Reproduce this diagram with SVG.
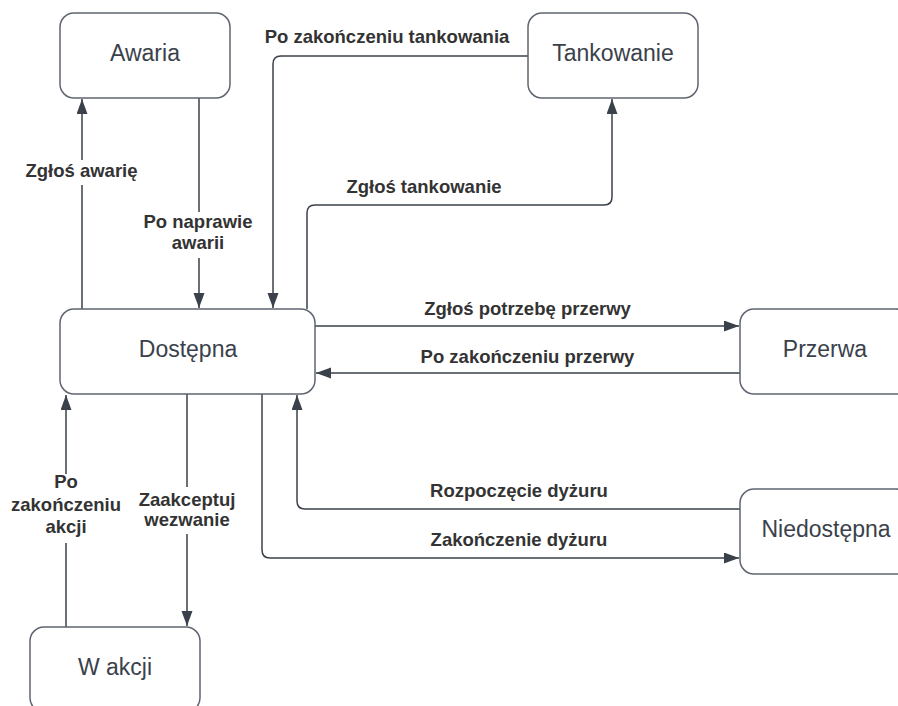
<svg xmlns="http://www.w3.org/2000/svg" width="898" height="706" viewBox="0 0 898 706">
<style>
.node rect{fill:#fff;stroke:#5f6570;stroke-width:1.5}
.node text{font-family:"Liberation Sans",Arial,sans-serif;font-size:23px;fill:#3a414a;text-anchor:middle}
.conn path{fill:none;stroke:#3a414a;stroke-width:1.5}
.lbl{font-family:"Liberation Sans",Arial,sans-serif;font-size:18.5px;font-weight:bold;fill:#333;text-anchor:middle}
.bg{fill:#fff}
</style>
<defs>
<marker id="ah" markerUnits="userSpaceOnUse" markerWidth="16" markerHeight="12" refX="15" refY="5.5" orient="auto">
<path d="M0,0 L15,5.5 L0,11 z" fill="#3a414a"/>
</marker>
</defs>
<rect width="898" height="706" fill="#fff"/>
<g id="connectors" class="conn">
<path d="M82,309 V99" marker-end="url(#ah)"/>
<path d="M199,98 V308" marker-end="url(#ah)"/>
<path d="M528,56 H281 Q273,56 273,64 V308" marker-end="url(#ah)"/>
<path d="M307,309 V213 Q307,205 315,205 H604 Q612,205 612,197 V99" marker-end="url(#ah)"/>
<path d="M315,326 H739" marker-end="url(#ah)"/>
<path d="M740,373 H316" marker-end="url(#ah)"/>
<path d="M187,394 V626" marker-end="url(#ah)"/>
<path d="M66,627 V395" marker-end="url(#ah)"/>
<path d="M740,509 H305 Q297,509 297,501 V395" marker-end="url(#ah)"/>
<path d="M262,394 V550 Q262,558 270,558 H739" marker-end="url(#ah)"/>
</g>
<g id="labels">
<rect class="bg" x="22" y="160" width="120" height="25"/>
<text class="lbl" x="81.5" y="177">Zgłoś awarię</text>
<rect class="bg" x="140" y="212" width="118" height="46"/>
<text class="lbl" x="198" y="228">Po naprawie</text>
<text class="lbl" x="198" y="249">awarii</text>
<text class="lbl" x="387" y="43">Po zakończeniu tankowania</text>
<text class="lbl" x="424" y="193">Zgłoś tankowanie</text>
<text class="lbl" x="527.5" y="315">Zgłoś potrzebę przerwy</text>
<text class="lbl" x="527.5" y="362.5">Po zakończeniu przerwy</text>
<text class="lbl" x="519" y="497">Rozpoczęcie dyżuru</text>
<text class="lbl" x="519" y="546">Zakończenie dyżuru</text>
<rect class="bg" x="134" y="487" width="106" height="47"/>
<text class="lbl" x="187" y="506">Zaakceptuj</text>
<text class="lbl" x="187" y="526">wezwanie</text>
<rect class="bg" x="6" y="474" width="120" height="69"/>
<text class="lbl" x="66" y="488">Po</text>
<text class="lbl" x="66" y="511">zakończeniu</text>
<text class="lbl" x="66" y="533">akcji</text>
</g>
<g id="awaria" class="node"><rect x="60" y="13" width="170" height="85" rx="14"/><text x="145" y="61">Awaria</text></g>
<g id="tankowanie" class="node"><rect x="528" y="13" width="170" height="85" rx="14"/><text x="613" y="61">Tankowanie</text></g>
<g id="dostepna" class="node"><rect x="60" y="309" width="255" height="85" rx="14"/><text x="188" y="357">Dostępna</text></g>
<g id="przerwa" class="node"><rect x="740" y="309" width="170" height="85" rx="14"/><text x="825" y="357">Przerwa</text></g>
<g id="niedostepna" class="node"><rect x="740" y="489" width="170" height="85" rx="14"/><text x="826" y="537">Niedostępna</text></g>
<g id="wakcji" class="node"><rect x="30" y="627" width="170" height="85" rx="14"/><text x="115" y="675">W akcji</text></g>
</svg>
